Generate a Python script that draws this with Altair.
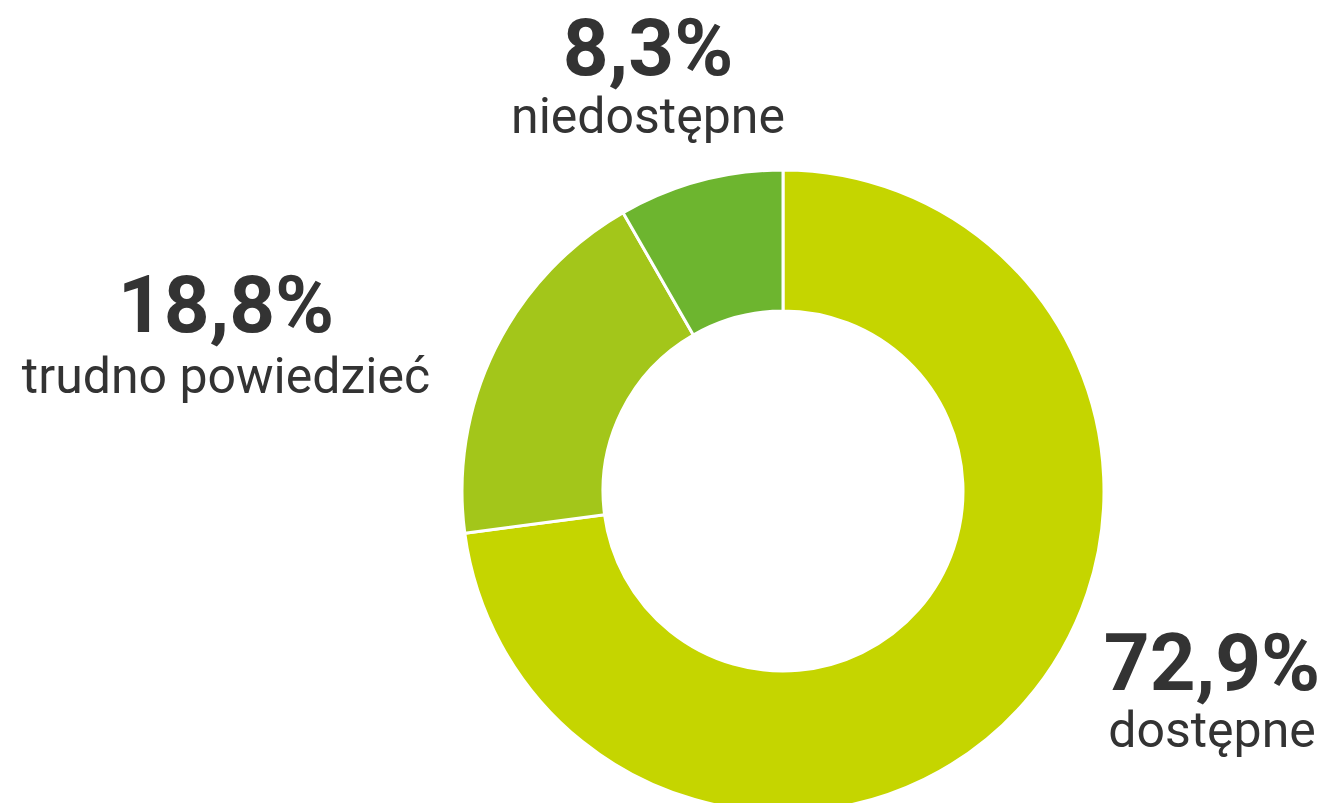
import altair as alt
import pandas as pd

categories = ["dostępne", "trudno powiedzieć", "niedostępne"]
values = [72.9, 18.8, 8.3]
value_labels = ["72,9%", "18,8%", "8,3%"]
colors = ["#C5D500", "#A3C61A", "#6DB52F"]
order = [1, 2, 3]

df = pd.DataFrame({"kategoria": categories, "wartosc": values, "kolejnosc": order})

CX, CY = 775, 483

donut = alt.Chart(df).mark_arc(innerRadius=180, outerRadius=321, stroke="white", strokeWidth=3).encode(
    theta=alt.Theta("wartosc:Q", stack=True),
    color=alt.Color("kategoria:N", scale=alt.Scale(domain=categories, range=colors), legend=None),
    order=alt.Order("kolejnosc:Q"),
    x=alt.value(CX),
    y=alt.value(CY),
)

# label anchor (center x, number baseline, label baseline) in plot coordinates
anchors = {
    "dostępne": (1204, 682, 739),
    "trudno powiedzieć": (218, 324, 385),
    "niedostępne": (640, 67, 125),
}

layers = [donut]
for cat, lab in zip(categories, value_labels):
    ax, ny, ly = anchors[cat]
    tdf = pd.DataFrame({"num": [lab], "cat": [cat]})
    layers.append(
        alt.Chart(tdf).mark_text(font="Roboto", fontWeight="bold", fontSize=80, color="#333333",
                                 align="center", baseline="alphabetic").encode(
            text="num:N", x=alt.value(ax), y=alt.value(ny))
    )
    layers.append(
        alt.Chart(tdf).mark_text(font="Roboto", fontSize=50, color="#333333",
                                 align="center", baseline="alphabetic").encode(
            text="cat:N", x=alt.value(ax), y=alt.value(ly))
    )

chart = alt.layer(*layers).properties(
    width=1311, height=795,
    autosize=alt.AutoSizeParams(type="none"),
    padding=0,
).configure_view(stroke=None)

chart.save("out.html", embed_options={"renderer": "svg", "actions": False})
